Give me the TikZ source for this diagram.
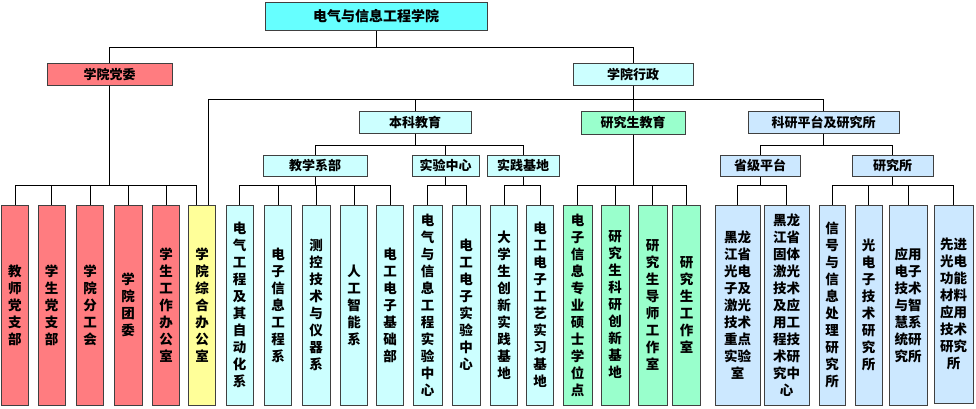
\documentclass[tikz,border=0pt]{standalone}
\usepackage{fontspec}
\setmainfont{Noto Sans CJK SC}
\definecolor{topc}{HTML}{66FFFF}
\definecolor{redc}{HTML}{FF7C80}
\definecolor{cyanl}{HTML}{CCFFFF}
\definecolor{yell}{HTML}{FFFF99}
\definecolor{grn}{HTML}{99FFCC}
\definecolor{blu}{HTML}{CCE8FF}
\tikzset{
  box/.style={draw=black!75, line width=1pt, inner sep=0pt},
  hbox/.style={box, minimum height=22pt, font=\fontsize{13}{15}\selectfont\bfseries},
  vbox/.style={box, minimum width=27pt, minimum height=200pt, align=center,
    font=\fontsize{13.5}{17}\selectfont\bfseries},
  conn/.style={draw=black, line width=0.9pt}
}
\begin{document}
\begin{tikzpicture}[x=1pt,y=-1pt]
\useasboundingbox[fill=white] (0,0) rectangle (976,408);
% level 0
\node[hbox, fill=topc, minimum width=222pt, minimum height=28pt, font=\fontsize{14}{16}\selectfont\bfseries] (top) at (376,16) {电气与信息工程学院};
% level 1
\node[hbox, fill=redc, minimum width=125pt] (dw) at (109.5,74) {学院党委};
\node[hbox, fill=cyanl, minimum width=120pt] (xz) at (633,74) {学院行政};
% level 2
\node[hbox, fill=cyanl, minimum width=112pt] (bk) at (415,122) {本科教育};
\node[hbox, fill=grn, minimum width=104pt, minimum height=23pt] (yjs) at (633,122.5) {研究生教育};
\node[hbox, fill=blu, minimum width=151pt] (ky) at (823.5,122) {科研平台及研究所};
% level 3
\node[hbox, fill=cyanl, minimum width=104pt, minimum height=21pt] (jx) at (315,165.5) {教学系部};
\node[hbox, fill=cyanl, minimum width=67pt, minimum height=21pt] (sy) at (445.5,165.5) {实验中心};
\node[hbox, fill=cyanl, minimum width=72pt, minimum height=21pt] (sj) at (523,165.5) {实践基地};
\node[hbox, fill=blu, minimum width=80pt, minimum height=21pt] (sheng) at (760,165.5) {省级平台};
\node[hbox, fill=blu, minimum width=81pt, minimum height=21pt] (yjsuo) at (892.5,165.5) {研究所};
% bottom boxes
\node[vbox, fill=redc] (b1) at (15,305) {教\\师\\党\\支\\部};
\node[vbox, fill=redc] (b2) at (51.5,305) {学\\生\\党\\支\\部};
\node[vbox, fill=redc] (b3) at (90,305) {学\\院\\分\\工\\会};
\node[vbox, fill=redc, minimum width=28pt] (b4) at (128,305) {学\\院\\团\\委};
\node[vbox, fill=redc] (b5) at (166,305) {学\\生\\工\\作\\办\\公\\室};
\node[vbox, fill=yell] (b6) at (202,305) {学\\院\\综\\合\\办\\公\\室};
\node[vbox, fill=cyanl] (b7) at (239.5,305) {电\\气\\工\\程\\及\\其\\自\\动\\化\\系};
\node[vbox, fill=cyanl] (b8) at (278,305) {电\\子\\信\\息\\工\\程\\系};
\node[vbox, fill=cyanl, minimum width=28pt] (b9) at (316,305) {测\\控\\技\\术\\与\\仪\\器\\系};
\node[vbox, fill=cyanl] (b10) at (354,305) {人\\工\\智\\能\\系};
\node[vbox, fill=cyanl] (b11) at (390,305) {电\\工\\电\\子\\基\\础\\部};
\node[vbox, fill=cyanl, minimum width=29pt] (b12) at (427.5,305) {电\\气\\与\\信\\息\\工\\程\\实\\验\\中\\心};
\node[vbox, fill=cyanl, minimum width=28pt] (b13) at (466,305) {电\\工\\电\\子\\实\\验\\中\\心};
\node[vbox, fill=cyanl] (b14) at (504,305) {大\\学\\生\\创\\新\\实\\践\\基\\地};
\node[vbox, fill=cyanl] (b15) at (540,305) {电\\工\\电\\子\\工\\艺\\实\\习\\基\\地};
\node[vbox, fill=grn, minimum width=29pt] (b16) at (577.5,305) {电\\子\\信\\息\\专\\业\\硕\\士\\学\\位\\点};
\node[vbox, fill=grn, minimum width=28pt] (b17) at (615,305) {研\\究\\生\\科\\研\\创\\新\\基\\地};
\node[vbox, fill=grn, minimum width=29pt] (b18) at (652.5,305) {研\\究\\生\\导\\师\\工\\作\\室};
\node[vbox, fill=grn, minimum width=28pt] (b19) at (686.5,305) {研\\究\\生\\工\\作\\室};
\node[vbox, fill=blu, minimum width=45pt] (b20) at (737.5,305) {黑龙\\江省\\光电\\子及\\激光\\技术\\重点\\实验\\室};
\node[vbox, fill=blu, minimum width=45pt] (b21) at (786.5,305) {黑龙\\江省\\固体\\激光\\技术\\及应\\用工\\程技\\术研\\究中\\心};
\node[vbox, fill=blu, minimum width=26pt] (b22) at (832,305) {信\\号\\与\\信\\息\\处\\理\\研\\究\\所};
\node[vbox, fill=blu] (b23) at (868.5,305) {光\\电\\子\\技\\术\\研\\究\\所};
\node[vbox, fill=blu, minimum width=38pt] (b24) at (908,305) {应用\\电子\\技术\\与智\\慧系\\统研\\究所};
\node[vbox, fill=blu, minimum width=39pt, minimum height=198pt] (b25) at (953.5,304) {先进\\光电\\功能\\材料\\应用\\技术\\研究\\所};
% connectors
\foreach \c in {dw,xz} \draw[conn] (top.south) -- ++(0,17) -| (\c.north);
\foreach \c in {b1,b2,b3,b4,b5} \draw[conn] (dw.south) -- ++(0,100) -| (\c.north);
\draw[conn] (dw.south) -- ++(0,100) -| ([xshift=-6pt]b6.north);
\draw[conn] (xz.south) -- ++(0,14) -| ([xshift=6pt]b6.north);
\foreach \c in {bk,yjs,ky} \draw[conn] (xz.south) -- ++(0,14) -| (\c.north);
\foreach \c in {jx,sy,sj} \draw[conn] (bk.south) -- ++(0,12) -| (\c.north);
\foreach \c in {b7,b8,b9,b10,b11} \draw[conn] (jx.south) -- ++(0,9) -| (\c.north);
\foreach \c in {b12,b13} \draw[conn] (sy.south) -- ++(0,9) -| (\c.north);
\foreach \c in {b14,b15} \draw[conn] (sj.south) -- ++(0,9) -| (\c.north);
\foreach \c in {b16,b17,b18,b19} \draw[conn] (yjs.south) -- ++(0,51) -| (\c.north);
\foreach \c in {sheng,yjsuo} \draw[conn] (ky.south) -- ++(0,12) -| (\c.north);
\foreach \c in {b20,b21} \draw[conn] (sheng.south) -- ++(0,9) -| (\c.north);
\foreach \c in {b22,b23,b24,b25} \draw[conn] (yjsuo.south) -- ++(0,9) -| (\c.north);
\end{tikzpicture}
\end{document}
